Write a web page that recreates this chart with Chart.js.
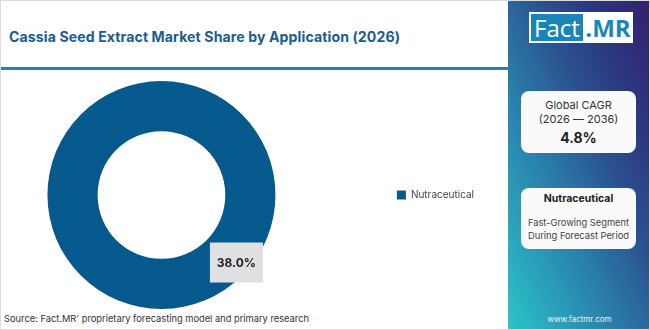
<!DOCTYPE html>
<html>
<head>
<meta charset="utf-8">
<script src="https://cdn.jsdelivr.net/npm/chart.js@4.4.1/dist/chart.umd.min.js"></script>
<style>
  html, body { margin: 0; padding: 0; background: #fff; }
  #page { position: relative; width: 650px; height: 330px; overflow: hidden; background: #fff; font-family: "Inter", "Open Sans", sans-serif; box-sizing: border-box; border: 1px solid #dcdcdc; }
  #title { position: absolute; left: 8px; top: 27px; font-size: 14.1px; font-weight: 700; color: #1c5c8e; white-space: nowrap; letter-spacing: 0.1px; }
  #rule { position: absolute; left: 0; top: 66px; width: 507px; height: 3px; background: #2a7db5; }
  #chartBox { position: absolute; left: 0; top: 80px; width: 483px; height: 228px; }
  #source { position: absolute; left: 3px; top: 312px; font-size: 9.3px; color: #333; white-space: nowrap; }
  #side { position: absolute; left: 507px; top: 0; width: 143px; height: 330px;
    background: linear-gradient(to top right, #2cc4c9 0%, #2a83ad 35%, #2b4f8e 62%, #2d3480 80%, #33216b 100%); }
  #logo { position: absolute; left: 21px; top: 11px; width: 104px; height: 31px; background: #fff; }
  #logo .a { position: absolute; left: 2px; top: 2px; width: 52px; height: 27px; background: #1a86b8; color: #fff; font-size: 24px; line-height: 27px; text-align: center; font-family: "Open Sans", sans-serif; }
  #logo .b { position: absolute; left: 55px; top: 2px; width: 48px; height: 27px; color: #1a86b8; font-size: 24px; line-height: 27px; font-weight: 700; text-align: center; font-family: "Open Sans", sans-serif; }
  .card { position: absolute; left: 13px; width: 115px; background: #fafafa; border-radius: 8px; text-align: center; color: #333; }
  #c1 { top: 90px; height: 62px; }
  #c2 { top: 187px; height: 61px; }
  #c1 .l1 { position: absolute; left: 0; right: 0; top: 7px; font-size: 11px; }
  #c1 .l2 { position: absolute; left: 0; right: 0; top: 21px; font-size: 11px; }
  #c1 .l3 { position: absolute; left: 0; right: 0; top: 38px; font-size: 14px; font-weight: 700; color: #222; }
  #c2 .l1 { position: absolute; left: 0; right: 0; top: 4px; font-size: 10.5px; font-weight: 700; color: #222; }
  #c2 .l2 { position: absolute; left: 0; right: 0; top: 28px; font-size: 9.3px; line-height: 13px; color: #444; }
  #web { position: absolute; left: 0; right: 0; top: 313px; text-align: center; font-size: 8px; color: #e8f4f8; }
</style>
</head>
<body>
<div id="page">
  <div id="title">Cassia Seed Extract Market Share by Application (2026)</div>
  <div id="rule"></div>
  <div id="chartBox"><canvas id="chart"></canvas></div>
  <div id="source">Source: Fact.MR' proprietary forecasting model and primary research</div>
  <div id="side">
    <div id="logo"><div class="a">Fact</div><div class="b">.MR</div></div>
    <div class="card" id="c1">
      <div class="l1">Global CAGR</div>
      <div class="l2">(2026 — 2036)</div>
      <div class="l3">4.8%</div>
    </div>
    <div class="card" id="c2">
      <div class="l1">Nutraceutical</div>
      <div class="l2">Fast-Growing Segment<br>During Forecast Period</div>
    </div>
    <div id="web">www.factmr.com</div>
  </div>
</div>
<script>
// Application segments and their share (%) in 2026
const categories = ['Nutraceutical'];
const shares = [38.0];
const sliceColors = ['#05598c'];

// Draws a grey value tag over the ring for each slice
const valueTags = {
  id: 'valueTags',
  afterDatasetsDraw(chart) {
    const { ctx } = chart;
    const meta = chart.getDatasetMeta(0);
    meta.data.forEach((arc, i) => {
      const p = arc.getProps(['x', 'y', 'outerRadius'], true);
      const ang = 42 * Math.PI / 180;
      const r = p.outerRadius * 0.885;
      const cx = p.x + Math.cos(ang) * r;
      const cy = p.y + Math.sin(ang) * r;
      const w = 53, h = 40;
      ctx.save();
      ctx.fillStyle = '#e0e0e2';
      ctx.fillRect(cx - w / 2, cy - h / 2, w, h);
      ctx.fillStyle = '#222';
      ctx.font = '700 12px Inter, "Open Sans", sans-serif';
      ctx.textAlign = 'center';
      ctx.textBaseline = 'middle';
      ctx.fillText(shares[i].toFixed(1) + '%', cx, cy + 1);
      ctx.restore();
    });
  }
};

new Chart(document.getElementById('chart'), {
  type: 'doughnut',
  data: {
    labels: categories,
    datasets: [{ data: shares, backgroundColor: sliceColors, borderWidth: 0 }]
  },
  options: {
    responsive: true,
    maintainAspectRatio: false,
    animation: false,
    cutout: '56%',
    layout: { padding: 0 },
    plugins: {
      tooltip: { enabled: false },
      legend: {
        position: 'right',
        align: 'center',
        labels: {
          boxWidth: 9,
          boxHeight: 9,
          padding: 75,
          color: '#444',
          font: { size: 10, family: 'Inter, "Open Sans", sans-serif' }
        }
      }
    }
  },
  plugins: [valueTags]
});
</script>
</body>
</html>
